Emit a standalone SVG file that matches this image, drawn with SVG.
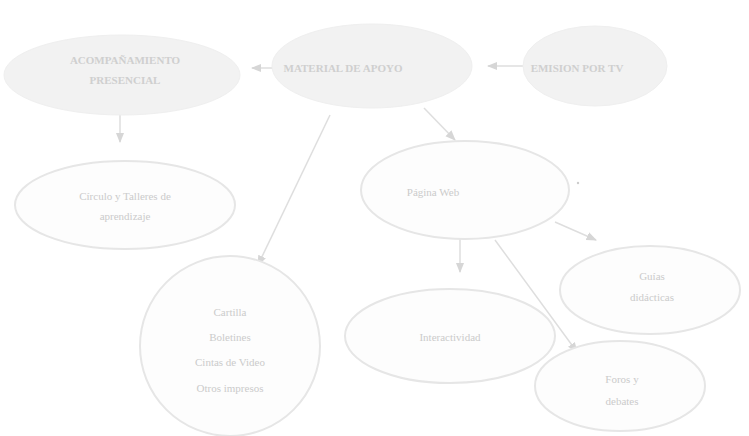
<svg xmlns="http://www.w3.org/2000/svg" width="749" height="436" viewBox="0 0 749 436">
<style>
.top{fill:#f2f2f2;stroke:#efefef;stroke-width:1}
.node{fill:#fdfdfd;stroke:#e6e6e6;stroke-width:2}
.tt{font-family:"Liberation Serif",serif;font-size:11px;font-weight:bold;fill:#cfcfcf;text-anchor:middle}
.t{font-family:"Liberation Serif",serif;font-size:11px;fill:#cbcbcb;text-anchor:middle}
.c{stroke:#dedede;stroke-width:1.5;fill:none;marker-end:url(#ah)}
</style>
<defs>
<marker id="ah" viewBox="0 0 10 10" refX="9" refY="5" markerWidth="7" markerHeight="7" orient="auto">
<path d="M0,1 L10,5 L0,9 Z" fill="#d6d6d6"/>
</marker>
</defs>
<rect width="749" height="436" fill="#ffffff"/>
<g id="connectors">
<line class="c" x1="525" y1="66" x2="488" y2="66"/>
<line class="c" x1="285" y1="68" x2="252" y2="68"/>
<line class="c" x1="120" y1="112" x2="120" y2="142"/>
<line class="c" x1="330" y1="115" x2="258" y2="265"/>
<line class="c" x1="424" y1="108" x2="455" y2="140"/>
<line class="c" x1="460" y1="238" x2="460" y2="272"/>
<line class="c" x1="555" y1="222" x2="596" y2="240"/>
<line class="c" x1="495" y1="240" x2="577" y2="352"/>
</g>
<g id="n-tv">
<ellipse class="top" cx="595" cy="66" rx="72" ry="40"/>
<text class="tt" x="577" y="72">EMISION POR TV</text>
</g>
<g id="n-material">
<ellipse class="top" cx="372" cy="66" rx="100" ry="42"/>
<text class="tt" x="343" y="72">MATERIAL DE APOYO</text>
</g>
<g id="n-acomp">
<ellipse class="top" cx="122" cy="75" rx="118" ry="40"/>
<text class="tt" x="125" y="64">ACOMPAÑAMIENTO</text>
<text class="tt" x="125" y="84">PRESENCIAL</text>
</g>
<g id="n-circulo">
<ellipse class="node" cx="125" cy="205" rx="110" ry="44"/>
<text class="t" x="125" y="200">Círculo y Talleres de</text>
<text class="t" x="125" y="220">aprendizaje</text>
</g>
<g id="n-web">
<ellipse class="node" cx="465" cy="190" rx="104" ry="49"/>
<text class="t" x="433" y="196">Página Web</text>
</g>
<circle cx="578" cy="183" r="1.2" fill="#cccccc"/>
<g id="n-cartilla">
<ellipse class="node" cx="230" cy="346" rx="90" ry="90"/>
<text class="t" x="230" y="316">Cartilla</text>
<text class="t" x="230" y="341">Boletines</text>
<text class="t" x="230" y="366">Cintas de Video</text>
<text class="t" x="230" y="392">Otros impresos</text>
</g>
<g id="n-inter">
<ellipse class="node" cx="450" cy="336" rx="105" ry="47"/>
<text class="t" x="450" y="341">Interactividad</text>
</g>
<g id="n-guias">
<ellipse class="node" cx="650" cy="290" rx="90" ry="44"/>
<text class="t" x="652" y="280">Guías</text>
<text class="t" x="652" y="301">didácticas</text>
</g>
<g id="n-foros">
<ellipse class="node" cx="620" cy="386" rx="85" ry="45"/>
<text class="t" x="622" y="383">Foros y</text>
<text class="t" x="622" y="405">debates</text>
</g>
</svg>
